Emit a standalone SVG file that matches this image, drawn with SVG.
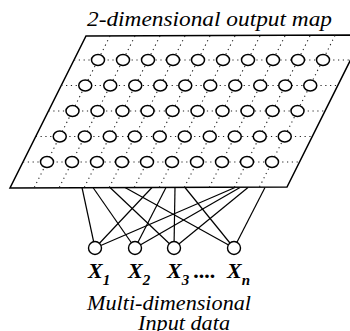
<svg xmlns="http://www.w3.org/2000/svg" width="350" height="331" viewBox="0 0 350 331">
<style>
.plane{fill:#fff;stroke:#000;stroke-width:1.5;stroke-linejoin:miter}
.dot{fill:none;stroke:#222;stroke-width:1.1;stroke-dasharray:1.2 3.6}
.n{fill:#fff;stroke:#000;stroke-width:1.5}
.c{stroke:#000;stroke-width:1.2;fill:none}
.in{fill:#fff;stroke:#000;stroke-width:1.4}
.t{font-family:"Liberation Serif","Times New Roman",serif;font-style:italic;fill:#000}
.x{font-family:"Liberation Serif","Times New Roman",serif;font-style:italic;font-weight:bold;font-size:22px;fill:#000}
.s{font-size:15px}
</style>
<rect width="350" height="331" fill="#fff"/>
<text class="t" x="87" y="26" font-size="21" textLength="245" lengthAdjust="spacingAndGlyphs">2-dimensional output map</text>

<g id="connectors">
<line class="c" x1="82" y1="187.5" x2="95" y2="248"/>
<line class="c" x1="152" y1="187.5" x2="95" y2="248"/>
<line class="c" x1="235" y1="187.5" x2="95" y2="248"/>
<line class="c" x1="93" y1="187.5" x2="135" y2="248"/>
<line class="c" x1="166" y1="187.5" x2="135" y2="248"/>
<line class="c" x1="240" y1="187.5" x2="135" y2="248"/>
<line class="c" x1="110" y1="187.5" x2="174" y2="248"/>
<line class="c" x1="175" y1="187.5" x2="174" y2="248"/>
<line class="c" x1="248" y1="187.5" x2="174" y2="248"/>
<line class="c" x1="125" y1="187.5" x2="234" y2="248"/>
<line class="c" x1="185" y1="187.5" x2="234" y2="248"/>
<line class="c" x1="265" y1="187.5" x2="234" y2="248"/>
</g>

<g id="output-map">
<polygon class="plane" points="86,36 363,35 287,187 10,188"/>
<g id="grid">
<line class="dot" x1="74" y1="60" x2="350.5" y2="60"/>
<line class="dot" x1="61.25" y1="85.5" x2="337.75" y2="85.5"/>
<line class="dot" x1="48.5" y1="111" x2="325" y2="111"/>
<line class="dot" x1="35.75" y1="136.5" x2="312.25" y2="136.5"/>
<line class="dot" x1="23" y1="162" x2="299.5" y2="162"/>
<line class="dot" x1="110" y1="36" x2="34" y2="188"/>
<line class="dot" x1="135" y1="36" x2="59" y2="188"/>
<line class="dot" x1="160" y1="36" x2="84" y2="188"/>
<line class="dot" x1="185" y1="36" x2="109" y2="188"/>
<line class="dot" x1="210" y1="36" x2="134" y2="188"/>
<line class="dot" x1="235" y1="36" x2="159" y2="188"/>
<line class="dot" x1="260" y1="36" x2="184" y2="188"/>
<line class="dot" x1="285" y1="36" x2="209" y2="188"/>
<line class="dot" x1="310" y1="36" x2="234" y2="188"/>
<line class="dot" x1="335" y1="35.5" x2="259" y2="188"/>
</g>
<g id="map-nodes">
<g id="row1">
<ellipse class="n" cx="98" cy="60" rx="6.5" ry="5.5"/><ellipse class="n" cx="123" cy="60" rx="6.5" ry="5.5"/><ellipse class="n" cx="148" cy="60" rx="6.5" ry="5.5"/><ellipse class="n" cx="173" cy="60" rx="6.5" ry="5.5"/><ellipse class="n" cx="198" cy="60" rx="6.5" ry="5.5"/><ellipse class="n" cx="223" cy="60" rx="6.5" ry="5.5"/><ellipse class="n" cx="248" cy="60" rx="6.5" ry="5.5"/><ellipse class="n" cx="273" cy="60" rx="6.5" ry="5.5"/><ellipse class="n" cx="298" cy="60" rx="6.5" ry="5.5"/><ellipse class="n" cx="323" cy="60" rx="6.5" ry="5.5"/>
</g>
<g id="row2">
<ellipse class="n" cx="85.25" cy="85.5" rx="6.5" ry="5.5"/><ellipse class="n" cx="110.25" cy="85.5" rx="6.5" ry="5.5"/><ellipse class="n" cx="135.25" cy="85.5" rx="6.5" ry="5.5"/><ellipse class="n" cx="160.25" cy="85.5" rx="6.5" ry="5.5"/><ellipse class="n" cx="185.25" cy="85.5" rx="6.5" ry="5.5"/><ellipse class="n" cx="210.25" cy="85.5" rx="6.5" ry="5.5"/><ellipse class="n" cx="235.25" cy="85.5" rx="6.5" ry="5.5"/><ellipse class="n" cx="260.25" cy="85.5" rx="6.5" ry="5.5"/><ellipse class="n" cx="285.25" cy="85.5" rx="6.5" ry="5.5"/><ellipse class="n" cx="310.25" cy="85.5" rx="6.5" ry="5.5"/>
</g>
<g id="row3">
<ellipse class="n" cx="72.5" cy="111" rx="6.5" ry="5.5"/><ellipse class="n" cx="97.5" cy="111" rx="6.5" ry="5.5"/><ellipse class="n" cx="122.5" cy="111" rx="6.5" ry="5.5"/><ellipse class="n" cx="147.5" cy="111" rx="6.5" ry="5.5"/><ellipse class="n" cx="172.5" cy="111" rx="6.5" ry="5.5"/><ellipse class="n" cx="197.5" cy="111" rx="6.5" ry="5.5"/><ellipse class="n" cx="222.5" cy="111" rx="6.5" ry="5.5"/><ellipse class="n" cx="247.5" cy="111" rx="6.5" ry="5.5"/><ellipse class="n" cx="272.5" cy="111" rx="6.5" ry="5.5"/><ellipse class="n" cx="297.5" cy="111" rx="6.5" ry="5.5"/>
</g>
<g id="row4">
<ellipse class="n" cx="59.75" cy="136.5" rx="6.5" ry="5.5"/><ellipse class="n" cx="84.75" cy="136.5" rx="6.5" ry="5.5"/><ellipse class="n" cx="109.75" cy="136.5" rx="6.5" ry="5.5"/><ellipse class="n" cx="134.75" cy="136.5" rx="6.5" ry="5.5"/><ellipse class="n" cx="159.75" cy="136.5" rx="6.5" ry="5.5"/><ellipse class="n" cx="184.75" cy="136.5" rx="6.5" ry="5.5"/><ellipse class="n" cx="209.75" cy="136.5" rx="6.5" ry="5.5"/><ellipse class="n" cx="234.75" cy="136.5" rx="6.5" ry="5.5"/><ellipse class="n" cx="259.75" cy="136.5" rx="6.5" ry="5.5"/><ellipse class="n" cx="284.75" cy="136.5" rx="6.5" ry="5.5"/>
</g>
<g id="row5">
<ellipse class="n" cx="47" cy="162" rx="6.5" ry="5.5"/><ellipse class="n" cx="72" cy="162" rx="6.5" ry="5.5"/><ellipse class="n" cx="97" cy="162" rx="6.5" ry="5.5"/><ellipse class="n" cx="122" cy="162" rx="6.5" ry="5.5"/><ellipse class="n" cx="147" cy="162" rx="6.5" ry="5.5"/><ellipse class="n" cx="172" cy="162" rx="6.5" ry="5.5"/><ellipse class="n" cx="197" cy="162" rx="6.5" ry="5.5"/><ellipse class="n" cx="222" cy="162" rx="6.5" ry="5.5"/><ellipse class="n" cx="247" cy="162" rx="6.5" ry="5.5"/><ellipse class="n" cx="272" cy="162" rx="6.5" ry="5.5"/>
</g>
</g>
</g>

<g id="input-x1">
<circle class="in" cx="95" cy="248" r="6.5"/>
<text class="x" x="88" y="278">X<tspan class="s" dy="7">1</tspan></text>
</g>
<g id="input-x2">
<circle class="in" cx="135" cy="248" r="6.5"/>
<text class="x" x="128" y="278">X<tspan class="s" dy="7">2</tspan></text>
</g>
<g id="input-x3">
<circle class="in" cx="174" cy="248" r="6.5"/>
<text class="x" x="167" y="278">X<tspan class="s" dy="7">3</tspan></text>
</g>
<text class="x" x="194" y="278">....</text>
<g id="input-xn">
<circle class="in" cx="234" cy="248" r="6.5"/>
<text class="x" x="227" y="278">X<tspan class="s" dy="7">n</tspan></text>
</g>

<text class="t" x="87" y="310" font-size="21" textLength="164" lengthAdjust="spacingAndGlyphs">Multi-dimensional</text>
<text class="t" x="138" y="330" font-size="20" textLength="92" lengthAdjust="spacingAndGlyphs">Input data</text>
</svg>
